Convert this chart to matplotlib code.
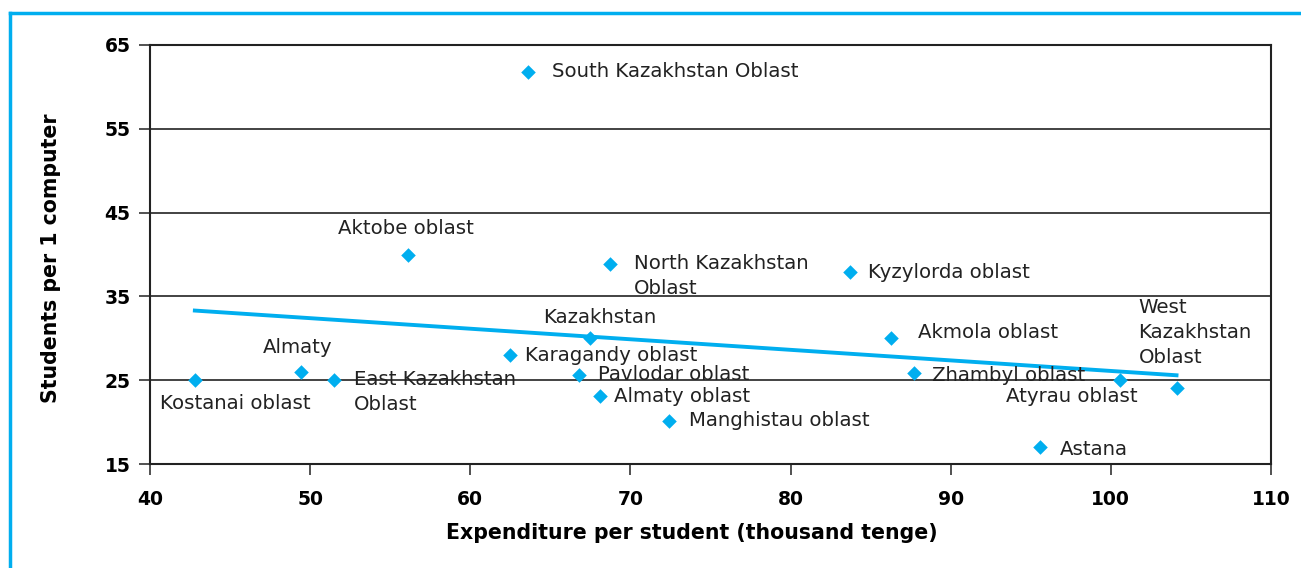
import numpy as np
import matplotlib.pyplot as plt
from matplotlib.lines import Line2D

regions = ["Kostanai oblast", "Almaty", "East Kazakhstan\nOblast", "Aktobe oblast",
           "South Kazakhstan Oblast", "Karagandy oblast", "Kazakhstan", "Pavlodar oblast",
           "Almaty oblast", "North Kazakhstan\nOblast", "Manghistau oblast", "Kyzylorda oblast",
           "Akmola oblast", "Zhambyl oblast", "Astana", "Atyrau oblast", "West\nKazakhstan\nOblast"]
expenditure = [42.8, 49.4, 51.5, 56.1, 63.6, 62.5, 67.5, 66.8, 68.1, 68.7, 72.4, 83.7,
               86.3, 87.7, 95.6, 100.6, 104.1]
students = [25.0, 26.0, 25.0, 40.0, 61.8, 28.0, 30.0, 25.6, 23.1, 38.9, 20.1, 37.9,
            30.0, 25.8, 17.0, 25.0, 24.1]

# label placement (offset in pixels, alignment)
label_pos = [
    (-35, -23, 'left', 'center'), (-38, 24, 'left', 'center'), (20, 0, 'left', 'top'),
    (-70, 26, 'left', 'center'), (24, 0, 'left', 'center'), (15, 0, 'left', 'center'),
    (-47, 21, 'left', 'center'), (19, 1, 'left', 'center'), (14, 0, 'left', 'center'),
    (24, 0, 'left', 'top'), (20, 1, 'left', 'center'), (18, 0, 'left', 'center'),
    (27, 6, 'left', 'center'), (18, -2, 'left', 'center'), (19, -2, 'left', 'center'),
    (17, -16, 'right', 'center'), (-38, 55, 'left', 'center'),
]
line_top = {'top': 10}

blue = '#00AEEF'
fig = plt.figure(figsize=(13.01, 5.68), dpi=100)
ax = fig.add_axes([150 / 1301, 1 - 464 / 568, 1121 / 1301, 419 / 568])

x = np.array(expenditure)
y = np.array(students)
ax.scatter(x, y, marker='D', s=55, color=blue, zorder=3, linewidths=0)

k, b = np.polyfit(x, y, 1)
xs = np.array([x.min(), x.max()])
ax.plot(xs, k * xs + b, color=blue, lw=2.8, zorder=2)

for name, xi, yi, (dx, dy, ha, va) in zip(regions, x, y, label_pos):
    if va == 'top':
        dy += line_top['top']
    ax.annotate(name, (xi, yi), xytext=(dx, dy), textcoords='offset pixels',
                ha=ha, va=va, fontsize=14.2, color='#222222', linespacing=1.4, zorder=4)

ax.set_xlim(40, 110)
ax.set_ylim(15, 65)
ax.set_xticks(range(40, 111, 10))
ax.set_yticks(range(15, 66, 10))
ax.yaxis.grid(True, color='#222222', lw=1.2)
ax.set_axisbelow(True)
for s in ax.spines.values():
    s.set_linewidth(1.5)
    s.set_color('#222222')
ax.tick_params(direction='out', length=8, width=1.2, color='#333333', labelsize=13.5)
for t in ax.get_xticklabels() + ax.get_yticklabels():
    t.set_fontweight('bold')
ax.tick_params(axis='x', pad=11)
ax.tick_params(axis='y', pad=6)
ax.set_xlabel('Expenditure per student (thousand tenge)', fontsize=14.8, fontweight='bold',
              labelpad=10, x=0.483)
ax.set_ylabel('Students per 1 computer', fontsize=14.8, fontweight='bold', labelpad=31, y=0.49)

fig.add_artist(Line2D([10 / 1301, 10 / 1301], [0, 1 - 13 / 568], transform=fig.transFigure, color=blue, lw=2.5))
fig.add_artist(Line2D([10 / 1301, 1], [1 - 13 / 568, 1 - 13 / 568], transform=fig.transFigure, color=blue, lw=2.5))

fig.savefig('out.png', dpi=100)
